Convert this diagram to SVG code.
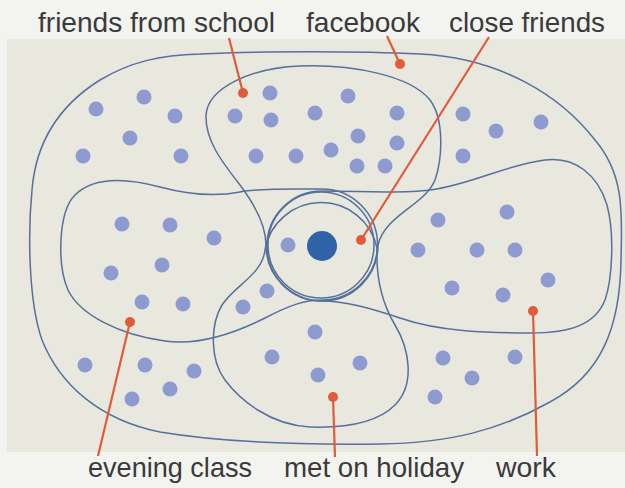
<svg xmlns="http://www.w3.org/2000/svg" width="625" height="488" viewBox="0 0 625 488">
<style>
.loop{fill:none;stroke:#55709c;stroke-width:1.5}
.dot{fill:#8e9bd0}
.pin{fill:#e05a3c}
.lead{stroke:#e05a3c;stroke-width:2.2;fill:none}
.lbl{font-family:"Liberation Sans",Arial,sans-serif;font-size:28px;fill:#3a3a3a}
</style>
<rect x="0" y="0" width="625" height="488" fill="#f3f3f0"/>
<rect x="7" y="39" width="618" height="413" fill="#e9e8de"/>
<g id="facebook">
<path class="loop" d="M200,54 C260,51 360,51 420,54 C500,58 560,95 595,140 C625,175 622,215 621,260 C620,330 600,375 550,402 C500,430 450,443 380,444 C300,445 220,442 160,432 C100,420 60,385 42,340 C28,300 28,230 32,190 C36,140 60,105 100,80 C130,62 160,55 200,54 Z"/>
<circle class="dot" cx="96" cy="109" r="7.5"/><circle class="dot" cx="144" cy="97" r="7.5"/><circle class="dot" cx="175" cy="116" r="7.5"/><circle class="dot" cx="83" cy="156" r="7.5"/><circle class="dot" cx="130" cy="138" r="7.5"/><circle class="dot" cx="181" cy="156" r="7.5"/>
<circle class="dot" cx="463" cy="114" r="7.5"/><circle class="dot" cx="496" cy="131" r="7.5"/><circle class="dot" cx="541" cy="122" r="7.5"/><circle class="dot" cx="463" cy="156" r="7.5"/>
<circle class="dot" cx="85" cy="365" r="7.5"/><circle class="dot" cx="145" cy="365" r="7.5"/><circle class="dot" cx="194" cy="371" r="7.5"/><circle class="dot" cx="170" cy="389" r="7.5"/><circle class="dot" cx="132" cy="399" r="7.5"/>
<circle class="dot" cx="443" cy="358" r="7.5"/><circle class="dot" cx="515" cy="357" r="7.5"/><circle class="dot" cx="472" cy="378" r="7.5"/><circle class="dot" cx="435" cy="397" r="7.5"/>
</g>
<g id="friends-from-school">
<path class="loop" d="M266,245 C266,225 255,205 240,185 C222,162 205,140 206,115 C208,88 250,68 300,66 C350,64 410,75 430,100 C445,120 442,160 435,180 C425,205 385,215 378,245 A56,56 0 0 1 266,245 Z"/>
<circle class="dot" cx="270" cy="93" r="7.5"/><circle class="dot" cx="348" cy="96" r="7.5"/><circle class="dot" cx="235" cy="116" r="7.5"/><circle class="dot" cx="271" cy="120" r="7.5"/><circle class="dot" cx="315" cy="113" r="7.5"/><circle class="dot" cx="397" cy="113" r="7.5"/><circle class="dot" cx="358" cy="136" r="7.5"/><circle class="dot" cx="397" cy="143" r="7.5"/><circle class="dot" cx="256" cy="156" r="7.5"/><circle class="dot" cx="296" cy="156" r="7.5"/><circle class="dot" cx="331" cy="150" r="7.5"/><circle class="dot" cx="357" cy="166" r="7.5"/><circle class="dot" cx="385" cy="166" r="7.5"/>
</g>
<g id="evening-class">
<path class="loop" d="M322,189 C290,189 260,188 240,192 C215,197 190,195 160,187 C130,179 95,175 75,195 C58,212 57,265 68,290 C80,315 120,335 165,341 C200,346 235,333 265,318 C290,305 305,300 322,300 A55.5,55.5 0 0 0 322,189 Z"/>
<circle class="dot" cx="122" cy="224" r="7.5"/><circle class="dot" cx="170" cy="225" r="7.5"/><circle class="dot" cx="214" cy="238" r="7.5"/><circle class="dot" cx="111" cy="273" r="7.5"/><circle class="dot" cx="162" cy="265" r="7.5"/><circle class="dot" cx="142" cy="302" r="7.5"/><circle class="dot" cx="183" cy="304" r="7.5"/>
<circle class="dot" cx="267" cy="291" r="7.5"/><circle class="dot" cx="243" cy="307" r="7.5"/>
</g>
<g id="work">
<path class="loop" d="M322,191 C360,191 400,194 430,190 C470,185 505,165 545,160 C575,156 598,175 607,205 C615,235 612,280 605,300 C595,325 570,333 530,333 C490,333 440,332 400,318 C370,308 345,301 322,301 A55,55 0 0 1 322,191 Z"/>
<circle class="dot" cx="438" cy="220" r="7.5"/><circle class="dot" cx="507" cy="212" r="7.5"/><circle class="dot" cx="418" cy="250" r="7.5"/><circle class="dot" cx="477" cy="250" r="7.5"/><circle class="dot" cx="515" cy="250" r="7.5"/><circle class="dot" cx="452" cy="288" r="7.5"/><circle class="dot" cx="503" cy="295" r="7.5"/><circle class="dot" cx="548" cy="280" r="7.5"/>
</g>
<g id="met-on-holiday">
<path class="loop" d="M377,248 C376,275 380,300 395,325 C410,350 415,385 395,405 C375,425 340,428 310,427 C270,425 240,400 225,380 C210,360 210,325 222,305 C235,285 262,275 265,250 A57,57 0 0 1 377,248 Z"/>
<circle class="dot" cx="315" cy="332" r="7.5"/><circle class="dot" cx="272" cy="357" r="7.5"/><circle class="dot" cx="360" cy="363" r="7.5"/><circle class="dot" cx="318" cy="375" r="7.5"/>
</g>
<g id="close-friends">
<circle class="loop" cx="321" cy="245" r="53"/>
<circle class="dot" cx="288" cy="245" r="7.5"/>
<circle cx="322" cy="246" r="15" fill="#2f62a6"/>
</g>
<g id="connectors">
<line class="lead" x1="229" y1="38" x2="243" y2="93"/>
<line class="lead" x1="387" y1="36" x2="400" y2="64"/>
<line class="lead" x1="489" y1="37" x2="361" y2="240"/>
<line class="lead" x1="98" y1="456" x2="130" y2="322"/>
<line class="lead" x1="335" y1="457" x2="333" y2="397"/>
<line class="lead" x1="537" y1="456" x2="533" y2="311"/>
<circle class="pin" cx="243" cy="93" r="5"/>
<circle class="pin" cx="400" cy="64" r="5"/>
<circle class="pin" cx="361" cy="240" r="5"/>
<circle class="pin" cx="130" cy="322" r="5"/>
<circle class="pin" cx="333" cy="397" r="5"/>
<circle class="pin" cx="533" cy="311" r="5"/>
</g>
<g id="labels">
<text class="lbl" x="38" y="32" textLength="237" lengthAdjust="spacingAndGlyphs">friends from school</text>
<text class="lbl" x="306" y="32" textLength="114" lengthAdjust="spacingAndGlyphs">facebook</text>
<text class="lbl" x="449" y="32" textLength="156" lengthAdjust="spacingAndGlyphs">close friends</text>
<text class="lbl" x="88" y="477" textLength="164" lengthAdjust="spacingAndGlyphs">evening class</text>
<text class="lbl" x="284" y="477" textLength="180" lengthAdjust="spacingAndGlyphs">met on holiday</text>
<text class="lbl" x="496" y="477" textLength="60" lengthAdjust="spacingAndGlyphs">work</text>
</g>
</svg>
